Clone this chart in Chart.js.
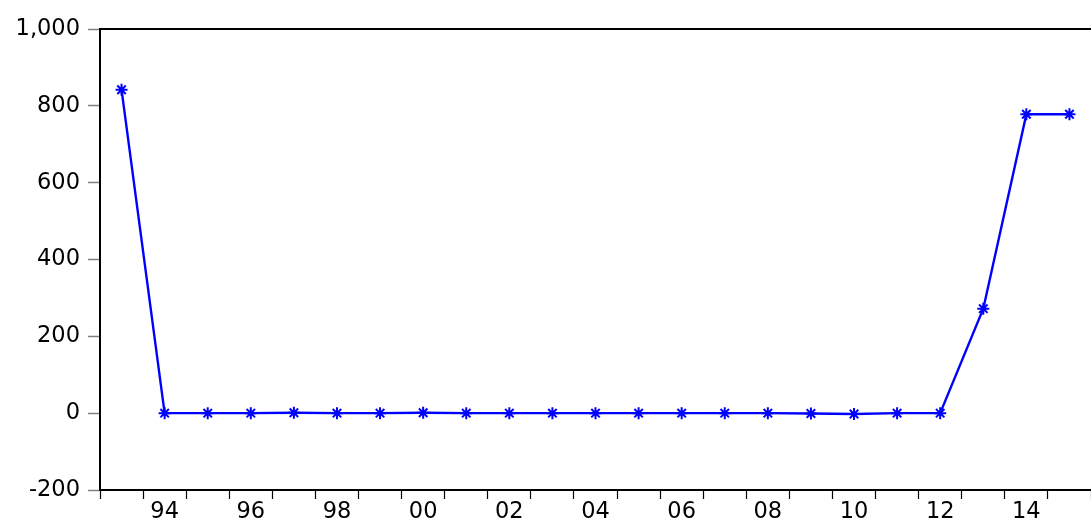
<!DOCTYPE html>
<html>
<head>
<meta charset="utf-8">
<script src="https://cdn.jsdelivr.net/npm/chart.js@4.4.1/dist/chart.umd.min.js"></script>
<style>
  html, body { margin: 0; padding: 0; background: #fff; overflow: hidden; }
  #wrap { width: 1091px; height: 522px; overflow: hidden; }
  canvas { display: block; }
</style>
</head>
<body>
<div id="wrap"><canvas id="c" width="1099" height="522"></canvas></div>
<script>
// Annual series, 1993-2015
const years = [1993, 1994, 1995, 1996, 1997, 1998, 1999, 2000, 2001, 2002, 2003, 2004,
               2005, 2006, 2007, 2008, 2009, 2010, 2011, 2012, 2013, 2014, 2015];
const values = [842, 0, 0, 0, 1, 0, 0, 1, 0, 0, 0, 0,
                0, 0, 0, 0, -1, -2, 0, 0, 272, 778, 778];

// Labelled years on the horizontal axis
const tickYears = [1994, 1996, 1998, 2000, 2002, 2004, 2006, 2008, 2010, 2012, 2014];
const tickLabels = ['94', '96', '98', '00', '02', '04', '06', '08', '10', '12', '14'];

// Vertical axis range
const yMin = -200, yMax = 1000, yStep = 200;

const xMin = years[0] - 0.5;
const xMax = years[years.length - 1] + 0.5;

const FONT = { family: '"DejaVu Sans", sans-serif', size: 22.5 };

new Chart(document.getElementById('c'), {
  type: 'line',
  data: {
    datasets: [{
      data: years.map((y, i) => ({ x: y, y: values[i] })),
      borderColor: '#0000ff',
      backgroundColor: '#0000ff',
      borderWidth: 2.4,
      pointStyle: 'star',
      pointRadius: 6,
      pointBorderWidth: 2,
      pointBorderColor: '#0000ff',
      tension: 0,
      fill: false,
      clip: false
    }]
  },
  options: {
    responsive: false,
    animation: false,
    devicePixelRatio: 1,
    layout: { padding: 0 },
    plugins: { legend: { display: false }, tooltip: { enabled: false } },
    scales: {
      x: {
        type: 'linear',
        position: 'bottom',
        min: xMin,
        max: xMax,
        afterBuildTicks(scale) {
          const t = [];
          for (let v = xMin; v <= xMax + 1e-9; v += 1) t.push({ value: v });
          tickYears.forEach(v => t.push({ value: v }));
          t.sort((a, b) => a.value - b.value);
          scale.ticks = t;
        },
        afterFit(scale) { scale.height = 32; },
        ticks: {
          autoSkip: false,
          maxRotation: 0,
          padding: 0,
          color: '#000',
          font: FONT,
          callback(value) {
            const k = tickYears.indexOf(value);
            return k >= 0 ? tickLabels[k] : '';
          }
        },
        grid: {
          display: true,
          drawOnChartArea: false,
          tickLength: 9,
          tickWidth: 1.2,
          tickColor: (ctx) => (ctx.tick && Number.isInteger(ctx.tick.value)) ? 'rgba(0,0,0,0)' : '#000'
        },
        border: { display: true, color: '#000', width: 2 }
      },
      xTop: {
        type: 'linear',
        position: 'top',
        min: xMin,
        max: xMax,
        afterFit(scale) { scale.height = 29; },
        ticks: { display: false },
        grid: { display: false, drawTicks: false },
        border: { display: true, color: '#000', width: 2 }
      },
      y: {
        type: 'linear',
        position: 'left',
        min: yMin,
        max: yMax,
        afterFit(scale) { scale.width = 100; },
        ticks: {
          stepSize: yStep,
          padding: 8,
          color: '#000',
          font: FONT,
          callback: (v) => v.toLocaleString('en-US')
        },
        grid: {
          display: true,
          drawOnChartArea: false,
          tickLength: 12,
          tickWidth: 1.5,
          tickColor: '#808080'
        },
        border: { display: true, color: '#000', width: 2 }
      }
    }
  }
});
</script>
</body>
</html>
